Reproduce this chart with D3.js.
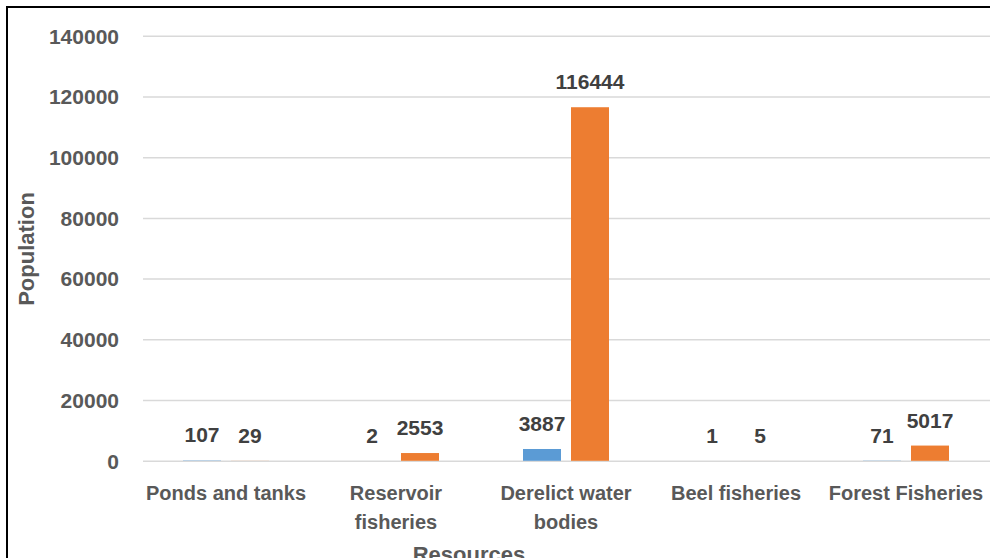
<!DOCTYPE html>
<html>
<head>
<meta charset="utf-8">
<script src="https://cdn.jsdelivr.net/npm/d3@7"></script>
<style>
  html, body { margin: 0; padding: 0; background: #fff; }
  svg { display: block; }
  text { font-family: "Liberation Sans", Arial, sans-serif; font-weight: bold; }
</style>
</head>
<body>
<svg id="chart" width="990" height="558"></svg>
<script>
const categories = [["Ponds and tanks"], ["Reservoir", "fisheries"], ["Derelict water", "bodies"], ["Beel fisheries"], ["Forest Fisheries"]];
const seriesA = [107, 2, 3887, 1, 71];
const seriesB = [29, 2553, 116444, 5, 5017];
const yTicks = [0, 20000, 40000, 60000, 80000, 100000, 120000, 140000];
const yTitle = "Population";
const xTitle = "Resources";

(function () {
const svg = d3.select("#chart");
const W = 990, H = 558;
const pLeft = 141, pRight = 991, pTop = 35.7, pBottom = 460.8;

svg.append("rect").attr("width", W).attr("height", H).attr("fill", "#fff");
svg.append("path")
  .attr("d", `M7,${H + 5} L7,7 L${W + 5},7`)
  .attr("fill", "none").attr("stroke", "#000").attr("stroke-width", 2);

const x = d3.scaleBand().domain(d3.range(categories.length)).range([pLeft, pRight]).paddingInner(0).paddingOuter(0);
const y = d3.scaleLinear().domain([0, 140000]).range([pBottom, pTop]);

const yAxis = d3.axisLeft(y).tickValues(yTicks).tickSize(-(pRight - pLeft)).tickPadding(24).tickFormat(d3.format("d"));
const gy = svg.append("g").attr("transform", `translate(${pLeft + 2},0)`).call(yAxis);
gy.select(".domain").remove();
gy.selectAll(".tick line").attr("stroke", "#d9d9d9").attr("stroke-width", 1.5);
gy.selectAll(".tick text").attr("fill", "#595959").style("font-size", "21px").attr("dy", "0.35em");

const barW = 38, gap = 10;
const offA = -gap / 2 - barW, offB = gap / 2;
const series = [{vals: seriesA, off: offA, color: "#5B9BD5"}, {vals: seriesB, off: offB, color: "#ED7D31"}];

series.forEach(s => {
  const g = svg.append("g");
  g.selectAll("rect").data(s.vals).join("rect")
    .attr("x", (d, i) => x(i) + x.bandwidth() / 2 + s.off)
    .attr("width", barW)
    .attr("y", d => y(d))
    .attr("height", d => y(0) - y(d))
    .attr("fill", s.color);
  g.selectAll("text").data(s.vals).join("text")
    .attr("x", (d, i) => x(i) + x.bandwidth() / 2 + s.off + barW / 2)
    .attr("y", d => y(d) - 18)
    .attr("text-anchor", "middle")
    .attr("fill", "#404040")
    .style("font-size", "21px")
    .text(d => d);
});

const gx = svg.append("g");
categories.forEach((lines, i) => {
  const cx = x(i) + x.bandwidth() / 2;
  const t = gx.append("text")
    .attr("x", cx)
    .attr("y", 500)
    .attr("text-anchor", "middle")
    .attr("fill", "#595959")
    .style("font-size", "20px");
  lines.forEach((ln, j) => {
    t.append("tspan").attr("x", cx).attr("dy", j === 0 ? 0 : 29).text(ln);
  });
});

svg.append("text")
  .attr("transform", `translate(34,249) rotate(-90)`)
  .attr("text-anchor", "middle")
  .attr("fill", "#595959")
  .style("font-size", "22px")
  .text(yTitle);
svg.append("text")
  .attr("x", 469).attr("y", 562)
  .attr("text-anchor", "middle")
  .attr("fill", "#595959")
  .style("font-size", "22px")
  .text(xTitle);
})();
</script>
</body>
</html>
